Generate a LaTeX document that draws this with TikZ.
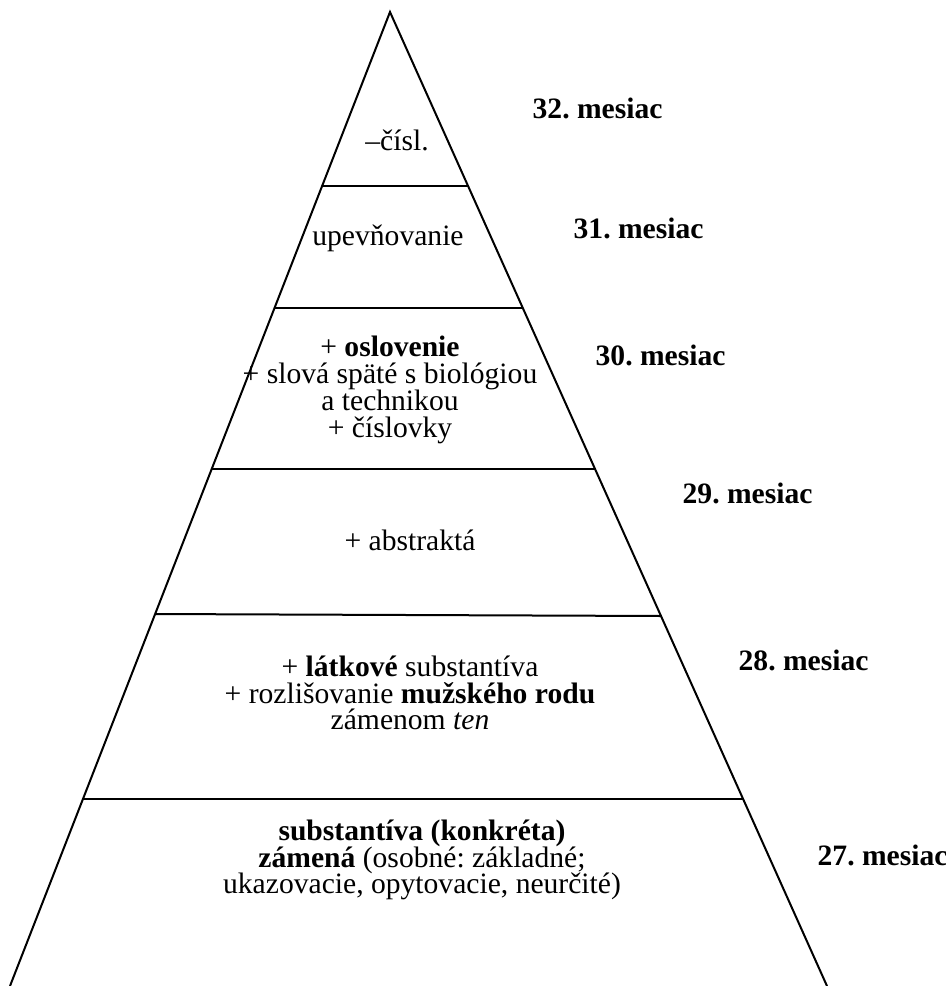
\documentclass[tikz,border=0pt]{standalone}
\usepackage{fontspec}
\setmainfont{Liberation Serif}
\usepackage{tikz}
\frenchspacing
\newcommand\pyrfont{\fontsize{14.8}{13.4}\selectfont\lineskiplimit=-10pt\relax}

\begin{document}
\begin{tikzpicture}[x=0.5pt,y=-0.5pt,line width=1pt,
  txt/.style={align=center,font=\pyrfont},
  mes/.style={anchor=west,font=\pyrfont\bfseries}]
\useasboundingbox (0,0) rectangle (946,986);
\draw (10,986) -- (390,12) -- (827,986); % sides
\draw (322,186) -- (468,186);
\draw (274,308) -- (523,308);
\draw (212,469) -- (595,469);
\draw (155,614) -- (661,616);
\draw (83,799) -- (743,799);
% levels
\node[txt] (l32) at (397,140) {--čísl.};
\node[txt] (l31) at (388,238) {upevňovanie};
\node[txt] (l30) at (390,390) {+ \textbf{oslovenie}\\+ slová späté s biológiou\\a technikou\\+ číslovky};
\node[txt] (l29) at (410,540) {+ abstraktá};
\node[txt] (l28) at (410,693) {+ \textbf{látkové} substantíva\\+ rozlišovanie \textbf{mužského rodu}\\zámenom \textit{ten}};
\node[txt] (l27) at (422,860) {\textbf{substantíva (konkréta)}\\\textbf{zámená} (osobné: základné;\\ukazovacie, opytovacie, neurčité)};
% months
\node[mes] (m32) at (525,108) {32. mesiac};
\node[mes] (m31) at (566,228) {31. mesiac};
\node[mes] (m30) at (588,355) {30. mesiac};
\node[mes] (m29) at (675,493) {29. mesiac};
\node[mes] (m28) at (731,660) {28. mesiac};
\node[mes] (m27) at (810,855) {27. mesiac};
\end{tikzpicture}
\end{document}
